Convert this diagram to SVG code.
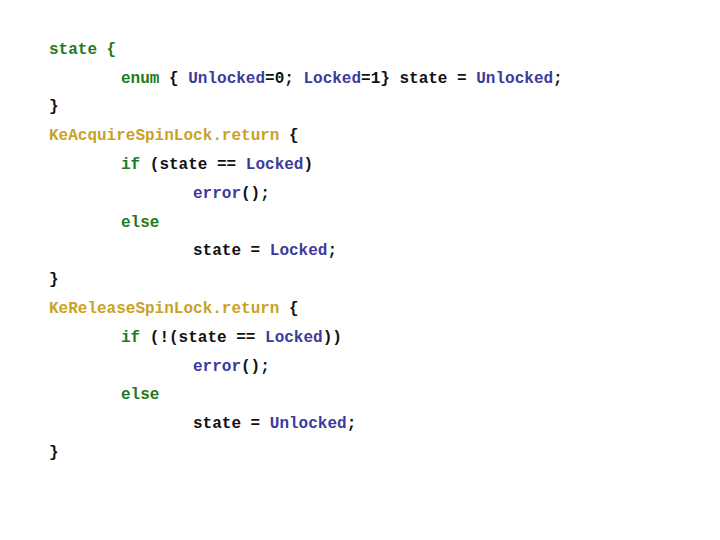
<svg xmlns="http://www.w3.org/2000/svg" width="720" height="540" viewBox="0 0 720 540">
<style>
text{font-family:"Liberation Mono","Courier New",monospace;font-size:16px;font-weight:bold;fill:#111;white-space:pre}
.k{fill:#1e7a1e}.v{fill:#3b3b9b}.f{fill:#c9a227}
</style>
<rect width="720" height="540" fill="#fff"/>
<text x="49" y="54"><tspan class="k">state {</tspan></text>
<text x="121" y="83"><tspan class="k">enum</tspan> { <tspan class="v">Unlocked</tspan>=0; <tspan class="v">Locked</tspan>=1} state = <tspan class="v">Unlocked</tspan>;</text>
<text x="49" y="111">}</text>
<text x="49" y="140"><tspan class="f">KeAcquireSpinLock.return</tspan> {</text>
<text x="121" y="169"><tspan class="k">if</tspan> (state == <tspan class="v">Locked</tspan>)</text>
<text x="193" y="198"><tspan class="v">error</tspan>();</text>
<text x="121" y="227" class="k">else</text>
<text x="193" y="255">state = <tspan class="v">Locked</tspan>;</text>
<text x="49" y="284">}</text>
<text x="49" y="313"><tspan class="f">KeReleaseSpinLock.return</tspan> {</text>
<text x="121" y="342"><tspan class="k">if</tspan> (!(state == <tspan class="v">Locked</tspan>))</text>
<text x="193" y="371"><tspan class="v">error</tspan>();</text>
<text x="121" y="399" class="k">else</text>
<text x="193" y="428">state = <tspan class="v">Unlocked</tspan>;</text>
<text x="49" y="457">}</text>
</svg>
